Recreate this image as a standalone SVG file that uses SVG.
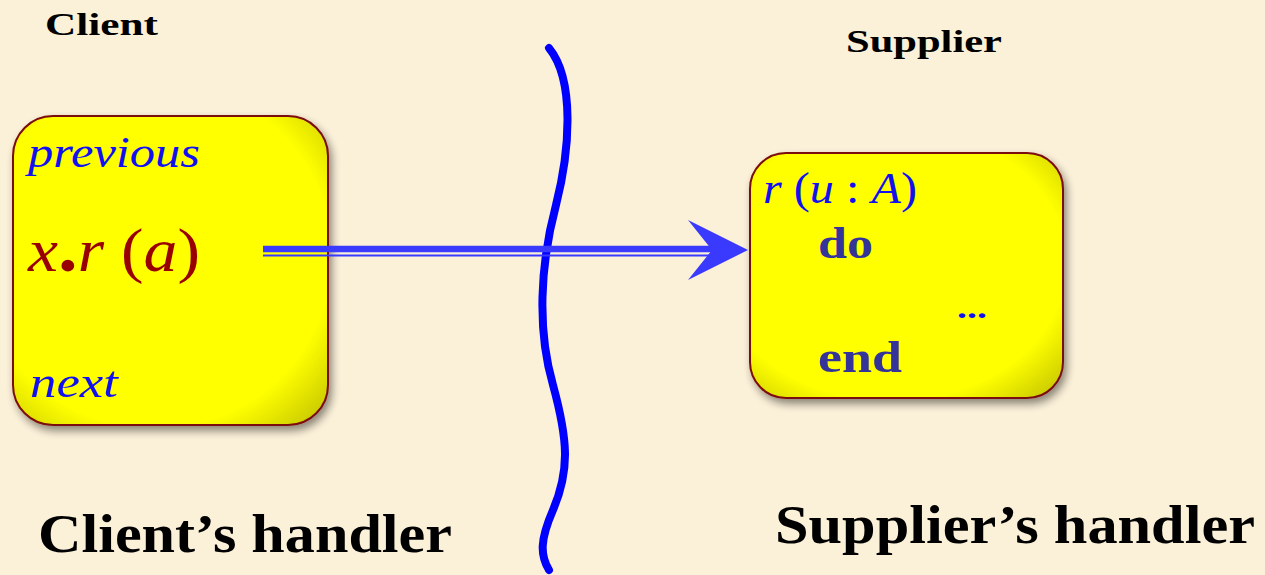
<svg xmlns="http://www.w3.org/2000/svg" width="1265" height="575" viewBox="0 0 1265 575">
<defs>
<style>
.lbl{font-family:"Liberation Serif",serif;font-weight:bold;fill:#000}
.it{font-family:"Liberation Serif",serif;font-style:italic;fill:#1010F0}
.kw{font-family:"Liberation Serif",serif;font-weight:bold;fill:#333399}
.box{fill:url(#yel);stroke:#7A0A0A;stroke-width:2;filter:url(#sh)}
</style>
<radialGradient id="yel" cx="0.45" cy="0.45" r="0.72">
<stop offset="0.78" stop-color="#FFFF00"/>
<stop offset="1" stop-color="#CFCF00"/>
</radialGradient>
<filter id="sh" x="-10%" y="-10%" width="125%" height="125%">
<feGaussianBlur in="SourceAlpha" stdDeviation="4"/>
<feOffset dx="3" dy="5" result="b"/>
<feComponentTransfer><feFuncA type="linear" slope="0.45"/></feComponentTransfer>
<feMerge><feMergeNode/><feMergeNode in="SourceGraphic"/></feMerge>
</filter>
</defs>
<rect x="0" y="0" width="1265" height="575" fill="#FBF0D8"/>
<g id="labels">
<text class="lbl" x="45" y="35" font-size="31" textLength="113" lengthAdjust="spacingAndGlyphs">Client</text>
<text class="lbl" x="846" y="52" font-size="31" textLength="156" lengthAdjust="spacingAndGlyphs">Supplier</text>
<text class="lbl" x="38" y="552" font-size="54" textLength="414" lengthAdjust="spacingAndGlyphs">Client’s handler</text>
<text class="lbl" x="775" y="543" font-size="54" textLength="480" lengthAdjust="spacingAndGlyphs">Supplier’s handler</text>
</g>
<g id="client">
<rect class="box" x="13" y="116" width="315" height="309" rx="40" ry="40"/>
<text class="it" x="28" y="167" font-size="44" textLength="172" lengthAdjust="spacingAndGlyphs">previous</text>
<text x="28" y="271" font-size="62" fill="#990000" font-family="&quot;Liberation Serif&quot;,serif" textLength="172" lengthAdjust="spacingAndGlyphs"><tspan font-style="italic">x</tspan><tspan font-weight="bold" font-size="72">.</tspan><tspan font-style="italic">r</tspan> (<tspan font-style="italic">a</tspan>)</text>
<text class="it" x="30" y="397" font-size="44" textLength="88" lengthAdjust="spacingAndGlyphs">next</text>
</g>
<g id="supplier">
<rect class="box" x="750" y="153" width="313" height="245" rx="36" ry="36"/>
<text x="763" y="203" font-size="44" fill="#1010F0" font-family="&quot;Liberation Serif&quot;,serif" textLength="154" lengthAdjust="spacingAndGlyphs"><tspan font-style="italic">r</tspan> (<tspan font-style="italic">u</tspan> : <tspan font-style="italic">A</tspan>)</text>
<text class="kw" x="818" y="258" font-size="44" textLength="55" lengthAdjust="spacingAndGlyphs">do</text>
<text x="957" y="318" font-size="30" font-weight="bold" fill="#1010F0" font-family="&quot;Liberation Serif&quot;,serif" textLength="30" lengthAdjust="spacingAndGlyphs">...</text>
<text class="kw" x="818" y="372" font-size="44" textLength="84" lengthAdjust="spacingAndGlyphs">end</text>
</g>
<g id="connectors">
<path id="boundary" d="M 549 48 C 575 80, 570 150, 556 205 C 540 265, 537 330, 553 385 C 568 440, 570 470, 553 510 C 540 540, 540 555, 549 570" fill="none" stroke="#0000FF" stroke-width="8" stroke-linecap="round"/>
<g id="call">
<line x1="263" y1="249" x2="712" y2="249" stroke="#3A3AFF" stroke-width="6.5"/>
<line x1="263" y1="255.5" x2="712" y2="255.5" stroke="#3A3AFF" stroke-width="2"/>
<polygon points="748,250 688,220 712,250 688,280" fill="#3A3AFF"/>
</g>
</g>
</svg>
